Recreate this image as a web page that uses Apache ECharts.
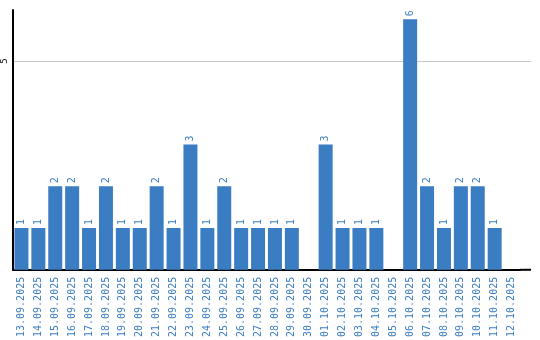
<!DOCTYPE html>
<html><head><meta charset="utf-8">
<script src="https://cdn.jsdelivr.net/npm/echarts@6/dist/echarts.min.js"></script>
<style>html,body{margin:0;padding:0;background:#fff}#c{width:540px;height:340px}</style>
</head><body><div id="c"></div>
<script>
var categories = ["13.09.2025","14.09.2025","15.09.2025","16.09.2025","17.09.2025","18.09.2025","19.09.2025","20.09.2025","21.09.2025","22.09.2025","23.09.2025","24.09.2025","25.09.2025","26.09.2025","27.09.2025","28.09.2025","29.09.2025","30.09.2025","01.10.2025","02.10.2025","03.10.2025","04.10.2025","05.10.2025","06.10.2025","07.10.2025","08.10.2025","09.10.2025","10.10.2025","11.10.2025","12.10.2025"];
var values = [1,1,2,2,1,2,1,1,2,1,3,1,2,1,1,1,1,0,3,1,1,1,0,6,2,1,2,2,1,0];
var yTicks = [5];
var chart = echarts.init(document.getElementById('c'), null, {renderer:'canvas'});
var blue = '#3b7dc3';
chart.setOption({
  animation:false,
  grid:{left:10,right:20,top:10,bottom:70,containLabel:false},
  xAxis:{type:'category',data:categories,
    axisLine:{lineStyle:{color:'#000',width:2}},
    axisTick:{show:false},
    axisLabel:{rotate:90,interval:0,margin:7,color:blue,fontFamily:'DejaVu Sans Mono',fontSize:10}},
  yAxis:{type:'value',min:0,max:6.22,interval:5,
    axisLine:{show:true,lineStyle:{color:'#000',width:2}},
    axisTick:{show:false},
    splitLine:{showMaxLine:false,lineStyle:{color:'#c8c8c8',width:1}},
    axisLabel:{rotate:90,margin:4,color:'#000',fontFamily:'DejaVu Sans Mono',fontSize:9,
      formatter:function(v){return yTicks.indexOf(v)>=0?String(v):'';}}},
  series:[{type:'bar',data:values.map(function(v){return v===0?null:v;}),barWidth:14,
    itemStyle:{color:blue},
    label:{show:true,position:'top',rotate:90,align:'left',verticalAlign:'middle',distance:3,
      color:blue,fontFamily:'DejaVu Sans Mono',fontSize:10}}]
});
// extend axis line and grid line to the right edge of the plot frame
var p0 = chart.convertToPixel({gridIndex:0},[categories.length-1,0]);
var p5 = chart.convertToPixel({gridIndex:0},[categories.length-1,yTicks[0]]);
chart.setOption({graphic:[
  {type:'line',shape:{x1:520,y1:p0[1],x2:531,y2:p0[1]},style:{stroke:'#000',lineWidth:2}},
  {type:'line',shape:{x1:520,y1:Math.round(p5[1])+0.5,x2:531,y2:Math.round(p5[1])+0.5},style:{stroke:'#c8c8c8',lineWidth:1}}
]});
</script></body></html>
